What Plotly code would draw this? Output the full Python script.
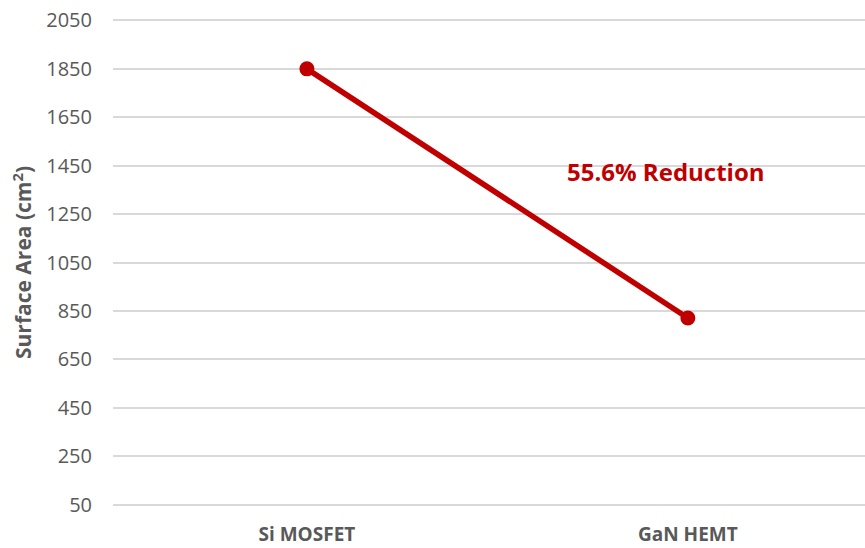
import plotly.graph_objects as go

# Device types and the board surface area each one needs
devices = ["Si MOSFET", "GaN HEMT"]
surface_area = [1850, 821]
reduction_label = "55.6% Reduction"
y_ticks = [50, 250, 450, 650, 850, 1050, 1250, 1450, 1650, 1850, 2050]

RED = "#c00000"
GREY_TEXT = "#595959"
GRID = "#d9d9d9"

fig = go.Figure()
fig.add_trace(go.Scatter(
    x=devices,
    y=surface_area,
    mode="lines+markers",
    line=dict(color=RED, width=5.5),
    marker=dict(color=RED, size=15),
    showlegend=False,
    hoverinfo="x+y",
))

fig.add_annotation(
    x=0.942, y=1427, xref="x", yref="y",
    text=reduction_label,
    showarrow=False,
    font=dict(family="Open Sans", size=24, color=RED, weight="bold"),
)

fig.update_layout(
    width=865, height=548,
    margin=dict(l=113, r=0, t=18, b=41),
    plot_bgcolor="white",
    paper_bgcolor="white",
    font=dict(family="Open Sans", color=GREY_TEXT),
)

fig.update_xaxes(
    type="category",
    range=[-0.509, 1.465],
    showgrid=False,
    showline=False,
    ticks="",
    tickfont=dict(family="Open Sans", size=19, color=GREY_TEXT, weight="bold"),
    ticklabelstandoff=14,
)

fig.update_yaxes(
    # padding so the 50 and 2050 grid lines are drawn inside the plot area
    range=[40, 2060],
    tickvals=y_ticks,
    showgrid=True,
    gridcolor=GRID,
    gridwidth=1.5,
    zeroline=False,
    showline=False,
    ticks="",
    tickfont=dict(family="Open Sans", size=20, color=GREY_TEXT),
    ticklabelstandoff=20,
    title=dict(
        text="Surface Area (cm<sup>2</sup>)",
        font=dict(family="Open Sans", size=21, color=GREY_TEXT, weight="bold"),
        standoff=8,
    ),
)

fig.write_html("out.html")
